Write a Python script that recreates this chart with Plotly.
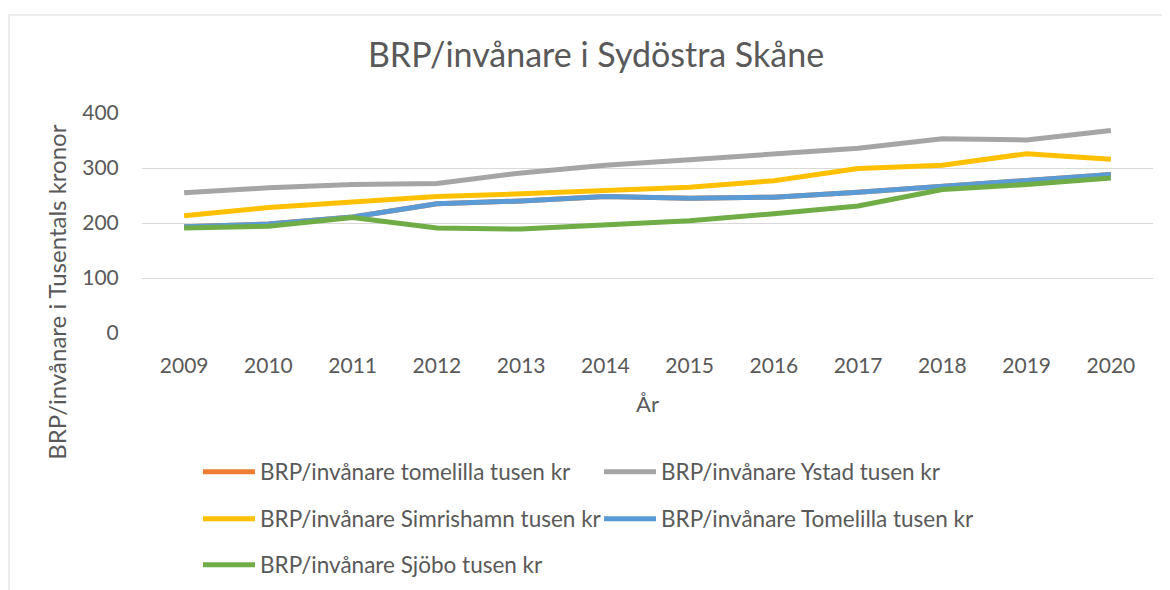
import plotly.graph_objects as go

years = ["2009", "2010", "2011", "2012", "2013", "2014", "2015", "2016", "2017", "2018", "2019", "2020"]
tomelilla_lc = [193, 198, 211, 235, 240, 248, 245, 247, 256, 267, 279, 288]
ystad = [255, 264, 270, 272, 291, 305, 315, 325, 336, 353, 351, 368]
simrishamn = [213, 228, 238, 248, 253, 258, 265, 277, 299, 305, 326, 316]
tomelilla = [193, 198, 211, 235, 240, 248, 245, 247, 256, 267, 279, 288]
sjobo = [191, 194, 210, 191, 189, 197, 204, 217, 231, 261, 270, 282]

names = [
    "BRP/invånare tomelilla tusen kr",
    "BRP/invånare Ystad tusen kr",
    "BRP/invånare Simrishamn tusen kr",
    "BRP/invånare Tomelilla tusen kr",
    "BRP/invånare Sjöbo tusen kr",
]
series = [tomelilla_lc, ystad, simrishamn, tomelilla, sjobo]
colors = ["#ED7D31", "#A5A5A5", "#FFC000", "#5B9BD5", "#70AD47"]
legends = ["legend", "legend", "legend2", "legend2", "legend3"]

FONT = "Lato"
TXT = "#595959"

fig = go.Figure()
for n, s, c, lg in zip(names, series, colors, legends):
    fig.add_trace(go.Scatter(x=years, y=s, name=n, mode="lines",
                             line=dict(color=c, width=5), legend=lg))

W, H = 1162, 582
leg_common = dict(orientation="h", entrywidth=334, entrywidthmode="pixels",
                  font=dict(family=FONT, size=22.5, color=TXT),
                  xref="container", yref="container", xanchor="left", yanchor="middle",
                  bgcolor="rgba(0,0,0,0)", itemwidth=52)

fig.update_layout(
    width=W, height=H,
    margin=dict(l=134, r=17, t=104.5, b=256.5),
    paper_bgcolor="white", plot_bgcolor="white",
    font=dict(family=FONT, color=TXT),
    title=dict(text="BRP/invånare i Sydöstra Skåne", x=588 / W, xref="container",
               xanchor="center", y=1 - 47 / H, yref="container", yanchor="middle",
               font=dict(family=FONT, size=34, color=TXT)),
    xaxis=dict(range=[-0.5, 11.5], showgrid=False, zeroline=False, showline=False,
               ticks="outside", ticklen=14, tickcolor="rgba(0,0,0,0)",
               tickfont=dict(family=FONT, size=21, color=TXT),
               title=dict(text="År", font=dict(family=FONT, size=22, color=TXT), standoff=20)),
    yaxis=dict(range=[0, 400], dtick=100, showgrid=True, gridcolor="#D9D9D9", gridwidth=1,
               zeroline=False, showline=False, ticks="outside", ticklen=18,
               tickcolor="rgba(0,0,0,0)",
               tickfont=dict(family=FONT, size=21, color=TXT)),
    legend=dict(x=190 / W, y=1 - 464 / H, **leg_common),
    legend2=dict(x=190 / W, y=1 - 511 / H, **leg_common),
    legend3=dict(x=190 / W, y=1 - 557 / H, **leg_common),
    annotations=[dict(text="BRP/invånare i Tusentals kronor", textangle=-90,
                      xref="paper", yref="paper", x=(49 - 134) / (W - 134 - 17),
                      y=1 - (285 - 104.5) / 221, xanchor="center", yanchor="middle",
                      showarrow=False, font=dict(family=FONT, size=24, color=TXT))],
    shapes=[dict(type="rect", xref="paper", yref="paper",
                 x0=(1 - 134) / (W - 134 - 17), x1=(W + 20 - 134) / (W - 134 - 17),
                 y0=1 + (104.5 - 6) / 221, y1=-(H + 20 - 325.5) / 221,
                 line=dict(color="#D9D9D9", width=1), fillcolor="rgba(0,0,0,0)", layer="below")],
)

fig.write_html("out.html")
